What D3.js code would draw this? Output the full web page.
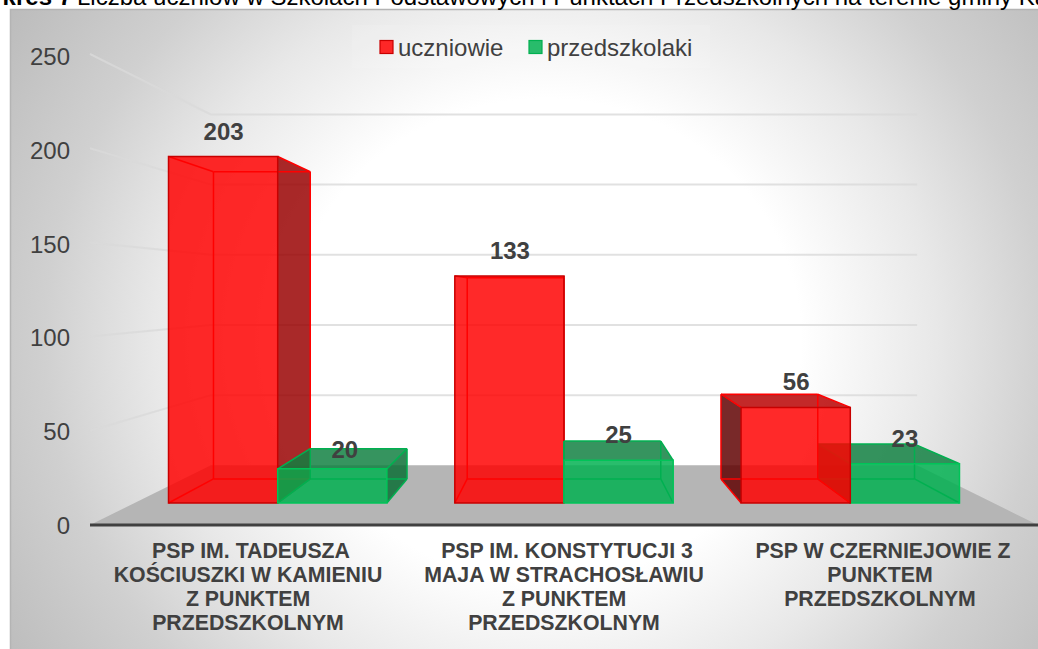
<!DOCTYPE html>
<html lang="pl">
<head>
<meta charset="utf-8">
<script src="https://cdn.jsdelivr.net/npm/d3@7"></script>
<style>
html,body{margin:0;padding:0;background:#fff;overflow:hidden}
svg{display:block;font-family:"Liberation Sans",Arial,sans-serif}
</style>
</head>
<body>
<svg id="c" width="1038" height="649"></svg>
<script>
const categories = ["PSP IM. TADEUSZA KOŚCIUSZKI", "PSP IM. KONSTYTUCJI 3 MAJA", "PSP W CZERNIEJOWIE"];
const categoryLines = [
  ["PSP IM. TADEUSZA", "KOŚCIUSZKI W KAMIENIU", "Z PUNKTEM", "PRZEDSZKOLNYM"],
  ["PSP IM. KONSTYTUCJI 3", "MAJA W STRACHOSŁAWIU", "Z PUNKTEM", "PRZEDSZKOLNYM"],
  ["PSP W CZERNIEJOWIE Z", "PUNKTEM", "PRZEDSZKOLNYM"]
];
const seriesNames = ["uczniowie", "przedszkolaki"];
const uczniowie = [203, 133, 56];
const przedszkolaki = [20, 25, 23];
const yTicks = [0, 50, 100, 150, 200, 250];

const W = 1038, H = 649;
const svg = d3.select("#c");
const defs = svg.append("defs");

// background
const bg = defs.append("radialGradient").attr("id", "bg")
  .attr("gradientUnits", "userSpaceOnUse").attr("cx", 0).attr("cy", 0).attr("r", 1)
  .attr("gradientTransform", "translate(545,340) scale(663,625)");
[[0, "#fff"], [0.386, "#fff"], [0.59, "#e8e8e8"], [0.755, "#d0d0d0"], [1, "#b8b8b8"]].forEach(([o, c]) =>
  bg.append("stop").attr("offset", o).attr("stop-color", c));
svg.append("rect").attr("x", 10).attr("y", 9).attr("width", W - 10).attr("height", H - 9).attr("fill", "url(#bg)");
svg.append("path").attr("d", `M10.5 ${H}V9.5H${W}`).attr("fill", "none").attr("stroke", "#b4b4b4").attr("stroke-width", 1.5);

// title (cut by the top edge, as in the source)
svg.append("text").attr("x", 72).attr("y", 5).attr("fill", "#000").attr("font-size", 24)
  .attr("text-anchor", "end").attr("font-weight", "bold").text("Wykres 7");
svg.append("text").attr("x", 77).attr("y", 5).attr("fill", "#000").attr("font-size", 24)
  .text("Liczba uczniów w Szkołach Podstawowych i Punktach Przedszkolnych na terenie gminy Kamień");

// scales: front plane of the 3D box
const xBand = d3.scaleBand().domain(categories).range([90, 1038]);
const xInner = d3.scaleBand().domain(seriesNames).range([0, xBand.bandwidth()]).paddingOuter(0.311).paddingInner(0);
const y = d3.scaleLinear().domain([0, 250]).range([525, 54]);
const yLabel = d3.scaleLinear().domain([0, 250]).range([525, 56]);

// perspective
const vx = 564, vy = 291;
const sWall = 0.745, sFront = 0.906, sBack = 0.803;
const P = (xv, v, s) => [vx + (xv - vx) * s, vy + (y(v) - vy) * s];
const poly = pts => "M" + pts.map(p => p.map(n => n.toFixed(2)).join(",")).join("L") + "Z";
const seg = (a, b) => "M" + a.join(",") + "L" + b.join(",");

// floor
const plot = svg.append("g");
const [x0, x1] = xBand.range();
plot.append("path").attr("d", poly([P(x0, 0, 1), P(x1, 0, 1), P(x1, 0, sWall), P(x0, 0, sWall)])).attr("fill", "#b5b5b5");

// gridlines on side and back wall
yTicks.filter(t => t > 0).forEach(t => {
  const a = P(x0, t, 1), b = P(x0, t, sWall), c = P(x1, t, sWall);
  plot.append("path").attr("d", `M${a}L${b}L${c}`).attr("fill", "none").attr("stroke", "#d9d9d9").attr("stroke-width", 2).attr("stroke-opacity", .8);
});

// legend backdrop
svg.append("rect").attr("x", 352).attr("y", 25).attr("width", 358).attr("height", 43).attr("fill", "#fff").attr("fill-opacity", .1);

const styles = {
  uczniowie: { front: "#ff0000", side: "#980000", left: "#5f0000", top: "#b80000", edge: "#ff0000", edgeFront: "#c80000", swatch: "#c80000" },
  przedszkolaki: { front: "#00b050", side: "#0a6e34", left: "#0a6e34", top: "#0f7f40", edge: "#00b050", edgeFront: "#00c458", swatch: "#00b050" }
};

function drawBar(cat, name, v) {
  const st = styles[name];
  const xl = xBand(cat) + xInner(name), xr = xl + xInner.bandwidth();
  const fbl = P(xl, 0, sFront), fbr = P(xr, 0, sFront), ftl = P(xl, v, sFront), ftr = P(xr, v, sFront);
  const bbl = P(xl, 0, sBack), bbr = P(xr, 0, sBack), btl = P(xl, v, sBack), btr = P(xr, v, sBack);
  const g = plot.append("g");
  if (bbl[0] < fbl[0]) g.append("path").attr("d", poly([fbl, ftl, btl, bbl])).attr("fill", st.left).attr("fill-opacity", .84);
  if (bbr[0] > fbr[0] + 0.5) g.append("path").attr("d", poly([fbr, ftr, btr, bbr])).attr("fill", st.side).attr("fill-opacity", .84);
  if (btl[1] < ftl[1]) g.append("path").attr("d", poly([ftl, ftr, btr, btl])).attr("fill", st.top).attr("fill-opacity", .84);
  g.append("path").attr("d", poly([fbl, fbr, ftr, ftl])).attr("fill", st.front).attr("fill-opacity", .84);
  // edges seen through the glass
  [[bbl, bbr], [bbr, btr], [btr, btl], [btl, bbl], [fbl, bbl], [fbr, bbr], [ftl, btl], [ftr, btr]].forEach(([a, b]) =>
    g.append("path").attr("d", seg(a, b)).attr("stroke", st.edge).attr("stroke-width", 1.5).attr("fill", "none"));
  g.append("path").attr("d", poly([fbl, fbr, ftr, ftl])).attr("fill", "none")
    .attr("stroke", st.edgeFront).attr("stroke-width", 1.5);
}
// painter's order: outermost box first, on each side of the vanishing point
categories.forEach((c, i) => {
  const order = xBand(c) + xBand.bandwidth() / 2 > vx + 1 ? [1, 0] : [0, 1];
  order.forEach(k => drawBar(c, seriesNames[k], (k === 0 ? uczniowie : przedszkolaki)[i]));
});

// value axis
const yAxis = d3.axisLeft(yLabel).tickValues(yTicks).tickSize(0).tickPadding(20);
const gy = svg.append("g").attr("transform", "translate(90,0)").call(yAxis);
gy.select(".domain").remove();
gy.selectAll("text").attr("font-size", 24).attr("font-family", "Liberation Sans").attr("fill", "#404040").attr("dy", "0.35em");

// category axis
const xAxis = d3.axisBottom(xBand).tickSize(0).tickPadding(0).tickFormat(() => "");
const gx = svg.append("g").attr("transform", "translate(0,525)").call(xAxis);
gx.select(".domain").attr("stroke", "#404040").attr("stroke-width", 3).attr("d", `M${x0},0H${x1}`);
gx.selectAll(".tick text").each(function (d, i) {
  const t = d3.select(this).attr("y", 0).attr("dy", null).attr("font-size", 21.3).attr("font-weight", "bold")
    .attr("font-family", "Liberation Sans").attr("fill", "#404040");
  categoryLines[i].forEach((line, k) => t.append("tspan").attr("x", k === 0 ? 3 : 0).attr("y", 32.5 + k * 24.2).text(line));
});

// data labels
function label(cat, name, v, dx, dy) {
  const xm = xBand(cat) + xInner(name) + xInner.bandwidth() / 2;
  const p = P(xm, v, sFront);
  svg.append("text").attr("x", p[0] + dx).attr("y", p[1] - 17 + dy).attr("text-anchor", "middle")
    .attr("font-size", 24).attr("font-weight", "bold").attr("fill", "#404040").text(v);
}
categories.forEach((c, i) => label(c, "uczniowie", uczniowie[i], 0.5, 0));
categories.forEach((c, i) => label(c, "przedszkolaki", przedszkolaki[i], i === 0 ? 12.5 : 0, i === 0 ? 6.5 : 0));

// legend
const legendX = d3.scalePoint().domain(seriesNames).range([380, 529]);
seriesNames.forEach(n => {
  const st = styles[n], lx = legendX(n);
  svg.append("rect").attr("x", lx).attr("y", 40.5).attr("width", 13).attr("height", 13)
    .attr("fill", st.front).attr("fill-opacity", .84).attr("stroke", st.swatch).attr("stroke-width", 1.2);
  svg.append("text").attr("x", lx + 18).attr("y", 56).attr("font-size", 24).attr("fill", "#404040").text(n);
});
</script>
</body>
</html>
